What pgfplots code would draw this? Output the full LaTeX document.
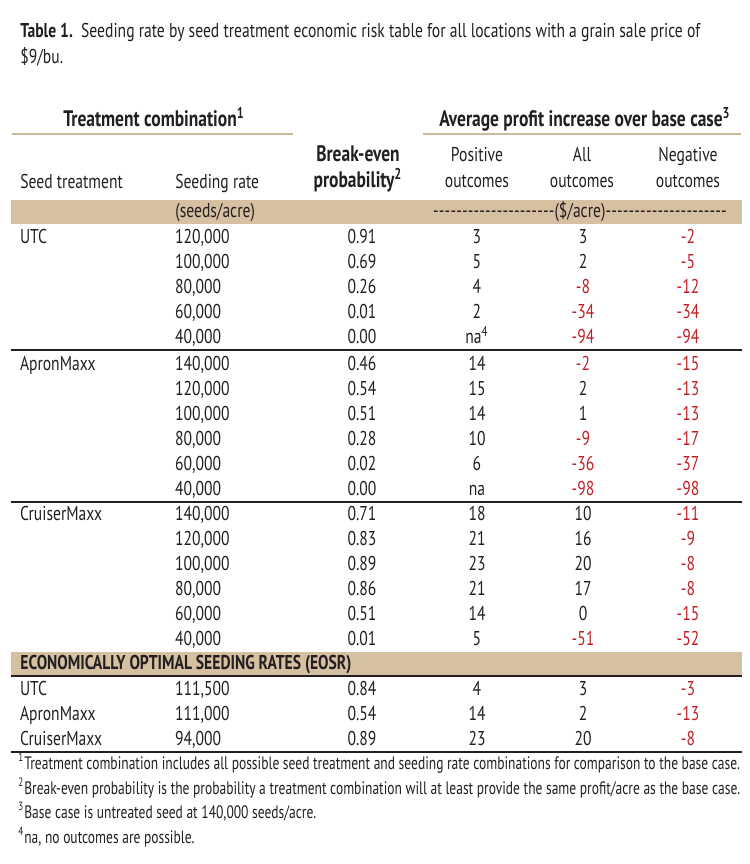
\documentclass[border=0pt]{standalone}
\usepackage{pgfplots}
\usepackage{pgfplotstable}
\pgfplotsset{compat=1.18}
\usepackage{fontspec}
\setmainfont{PT Sans}[FakeStretch=0.78]
\newfontfamily\footfont{PT Sans}[FakeStretch=0.75]
\definecolor{tanband}{RGB}{213,192,162}
\definecolor{tanline}{RGB}{205,185,158}
\definecolor{negred}{RGB}{190,32,38}
\definecolor{ink}{RGB}{35,31,32}
\def\nafour{na4}
\def\cellfmtA#1#2\relax{\ifx-#1\textcolor{negred}{-#2}\else#1#2\fi}
\newcommand\cellfmt{\edef\tmpcell{\pgfplotspointmeta}\ifx\tmpcell\nafour na\textsuperscript{4}\else\expandafter\cellfmtA\tmpcell\relax\fi}
\newcommand\midc[1]{\raisebox{-0.5ex}[0pt][0pt]{#1}}
\newcommand\midl[1]{\raisebox{-0.5ex}[0pt][0pt]{\rlap{#1}}}
\newcommand\bodyfont{\fontsize{10}{12}\selectfont}
\newcommand\headfont{\fontsize{11.2}{13}\selectfont\bfseries}

\pgfplotstableread{
y rate prob pos all neg
235 120,000 0.91 3 3 -2
260 100,000 0.69 5 2 -5
285 80,000 0.26 4 -8 -12
310 60,000 0.01 2 -34 -34
335 40,000 0.00 na4 -94 -94
362 140,000 0.46 14 -2 -15
387 120,000 0.54 15 2 -13
412 100,000 0.51 14 1 -13
437 80,000 0.28 10 -9 -17
462 60,000 0.02 6 -36 -37
487 40,000 0.00 na -98 -98
512 140,000 0.71 18 10 -11
537 120,000 0.83 21 16 -9
562 100,000 0.89 23 20 -8
587 80,000 0.86 21 17 -8
612 60,000 0.51 14 0 -15
637 40,000 0.01 5 -51 -52
687 111,500 0.84 4 3 -3
712 111,000 0.54 14 2 -13
737 94,000 0.89 23 20 -8
}\datatable

\pgfplotstableread{
y name
235 UTC
362 ApronMaxx
512 CruiserMaxx
687 UTC
712 ApronMaxx
737 CruiserMaxx
}\nametable

\begin{document}
\begin{tikzpicture}
\begin{axis}[
  width=375pt, height=432pt, scale only axis,
  xmin=0, xmax=750, ymin=0, ymax=864, y dir=reverse,
  hide axis, clip=false,
  every node near coord/.append style={font=\bodyfont, text=ink, inner sep=0pt, yshift=-2.5pt},
]
% frame of the page (invisible)
\addplot[draw=none, mark=none] coordinates {(0,0) (750,864)};
% bands
\addplot[fill=tanband, draw=none] coordinates {(11,200) (742,200) (742,224) (11,224)};
\addplot[fill=tanband, draw=none] coordinates {(11,652) (742,652) (742,675) (11,675)};
% rules
\addplot[tanline, line width=1.1pt] coordinates {(12,134) (293,134)};
\addplot[tanline, line width=1.1pt] coordinates {(423,134) (741,134)};
\addplot[ink, line width=0.9pt] coordinates {(11,350) (742,350)};
\addplot[ink, line width=0.9pt] coordinates {(11,502) (742,502)};
\addplot[ink, line width=1.3pt] coordinates {(11,676) (742,676)};
\addplot[ink, line width=1.3pt] coordinates {(11,752) (742,752)};
% columns
\addplot[draw=none, mark=none, point meta=explicit symbolic, nodes near coords={\midl{\pgfplotspointmeta}}]
  table[x expr=20, y=y, meta=name] {\nametable};
\addplot[draw=none, mark=none, point meta=explicit symbolic, nodes near coords={\midl{\pgfplotspointmeta}}]
  table[x expr=175, y=y, meta=rate] {\datatable};
\addplot[draw=none, mark=none, point meta=explicit symbolic, nodes near coords={\midc{\pgfplotspointmeta}}]
  table[x expr=362, y=y, meta=prob] {\datatable};
\addplot[draw=none, mark=none, point meta=explicit symbolic, nodes near coords={\midc{\cellfmt}}]
  table[x expr=477, y=y, meta=pos] {\datatable};
\addplot[draw=none, mark=none, point meta=explicit symbolic, nodes near coords={\midc{\cellfmt}}]
  table[x expr=583, y=y, meta=all] {\datatable};
\addplot[draw=none, mark=none, point meta=explicit symbolic, nodes near coords={\midc{\cellfmt}}]
  table[x expr=688, y=y, meta=neg] {\datatable};

% title
\begin{scope}[every node/.style={text=ink, inner sep=0pt, font=\bodyfont}]
\node[anchor=mid west] at (axis cs:20,32)
  {\textbf{Table 1.}\ \ Seeding rate by seed treatment economic risk table for all locations with a grain sale price of};
\node[anchor=mid west] at (axis cs:20,58) {\$9/bu.};
% headers
\node[anchor=mid, font=\headfont] at (axis cs:154,121) {Treatment combination\textsuperscript{1}};
\node[anchor=mid, font=\headfont] at (axis cs:585,121) {Average profit increase over base case\textsuperscript{3}};
\node[anchor=mid, font=\headfont] at (axis cs:358,156) {Break-even};
\node[anchor=mid, font=\headfont] at (axis cs:358,182) {probability\textsuperscript{2}};
\node[anchor=mid] at (axis cs:477,156) {Positive};
\node[anchor=mid] at (axis cs:477,182) {outcomes};
\node[anchor=mid] at (axis cs:582,156) {All};
\node[anchor=mid] at (axis cs:582,182) {outcomes};
\node[anchor=mid] at (axis cs:688,156) {Negative};
\node[anchor=mid] at (axis cs:688,182) {outcomes};
\node[anchor=mid west] at (axis cs:20,183) {Seed treatment};
\node[anchor=mid west] at (axis cs:175,183) {Seeding rate};
\node[anchor=mid west] at (axis cs:175,212) {(seeds/acre)};
\node[anchor=mid] at (axis cs:580,212) {\makebox[147pt]{\xleaders\hbox{-}\hfill(\$/acre)\xleaders\hbox{-}\hfill}};
\node[anchor=mid west] at (axis cs:20,664) {\textbf{ECONOMICALLY OPTIMAL SEEDING RATES (EOSR)}};
\end{scope}
% footnotes
\begin{scope}[every node/.style={text=ink, inner sep=0pt, anchor=mid west, font=\footfont\fontsize{9}{11}\selectfont}]
\node at (axis cs:18,764) {\textsuperscript{1}Treatment combination includes all possible seed treatment and seeding rate combinations for comparison to the base case.};
\node at (axis cs:18,789) {\textsuperscript{2}Break-even probability is the probability a treatment combination will at least provide the same profit/acre as the base case.};
\node at (axis cs:18,813) {\textsuperscript{3}Base case is untreated seed at 140,000 seeds/acre.};
\node at (axis cs:18,838) {\textsuperscript{4}na, no outcomes are possible.};
\end{scope}
\end{axis}
\end{tikzpicture}
\end{document}
